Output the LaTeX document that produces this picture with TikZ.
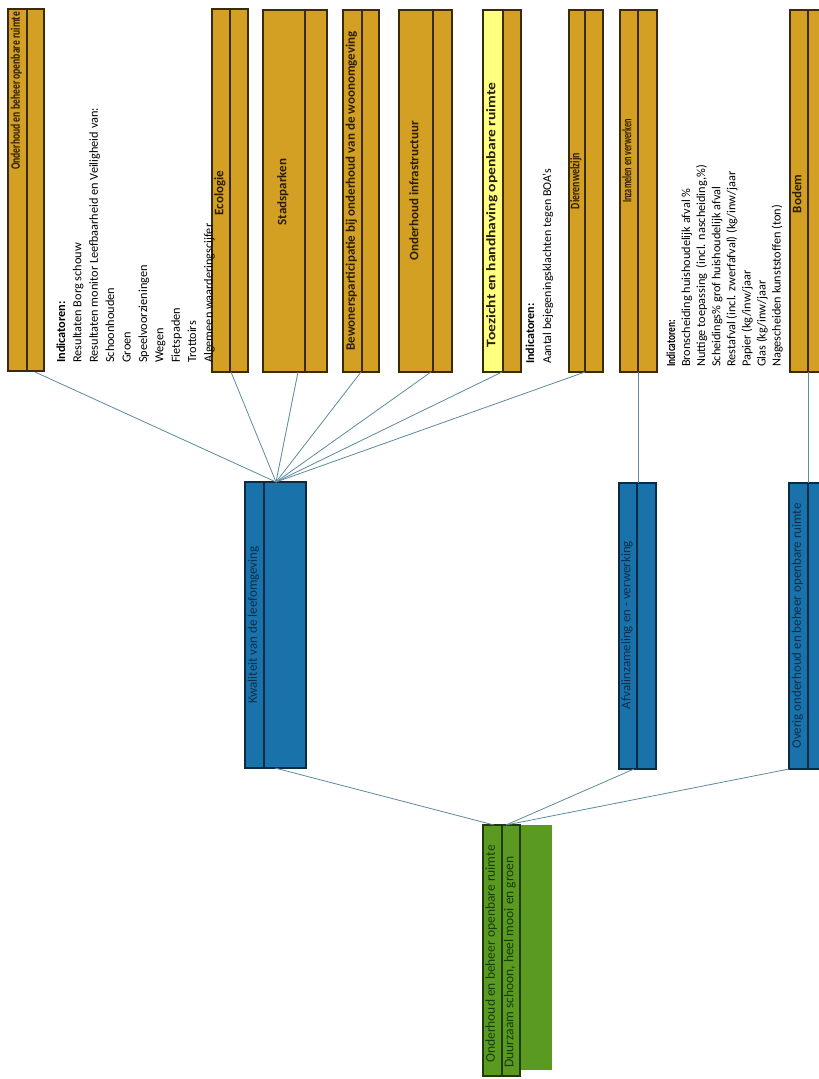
\documentclass[tikz,border=0pt]{standalone}
\usepackage{graphicx}
\usepackage{fontspec}
\setmainfont{Carlito}

\definecolor{goldfill}{HTML}{D4A023}
\definecolor{goldedge}{HTML}{3A2A08}
\definecolor{goldtext}{HTML}{2A1E05}
\definecolor{paleyellow}{HTML}{FFFF80}
\definecolor{bluefill}{HTML}{1A72AA}
\definecolor{blueedge}{HTML}{0B2B44}
\definecolor{bluetext}{HTML}{0A2E4E}
\definecolor{greenfill}{HTML}{5A9A20}
\definecolor{greenedge}{HTML}{1F3A0C}
\definecolor{greentext}{HTML}{1A3A0A}
\definecolor{wire}{HTML}{5C8A9E}

% a tall two-column box: name, colour family, left, right, divider, top, bottom
\newcommand\columnbox[7]{%
  \node[#2box, minimum width={(#4-#3)*1pt}, minimum height={(#7-#6)*1pt}]
    (#1) at ({(#3+#4)/2},{(#6+#7)/2}) {};
  \draw[#2line] (#5,#6) -- (#5,#7);
}
\newcommand\fsz[1]{\fontsize{#1}{#1}\selectfont}
% stretch or squeeze a label along its own direction
\newcommand\squeeze[2]{\scalebox{#1}[1]{#2}}

\begin{document}
\begin{tikzpicture}[x=1pt,y=-1pt,
  goldbox/.style={draw=goldedge, fill=goldfill, line width=1.3pt, inner sep=0pt},
  goldline/.style={draw=goldedge, line width=1.3pt},
  bluebox/.style={draw=blueedge, fill=bluefill, line width=1.3pt, inner sep=0pt},
  blueline/.style={draw=blueedge, line width=1.3pt},
  greenbox/.style={draw=greenedge, fill=greenfill, line width=1.3pt, inner sep=0pt},
  greenline/.style={draw=greenedge, line width=1.3pt},
  goldtitle/.style={rotate=90, anchor=mid, inner sep=0pt, text=goldtext,
    font=\fsz{13}\bfseries},
  bluetitle/.style={rotate=90, anchor=mid, inner sep=0pt, text=bluetext,
    font=\fsz{13}},
  greentitle/.style={rotate=90, anchor=mid, inner sep=0pt, text=greentext,
    font=\fsz{13.5}},
  indicator/.style={rotate=90, anchor=base west, inner sep=0pt,
    font=\fsz{12.3}},
  wire/.style={draw=wire, line width=0.8pt}
]
\useasboundingbox (0,0) rectangle (819,1079);
\clip (0,0) rectangle (819,1079);

% ---- top row: themes ----
\columnbox{b1}{gold}{8}{44}{27}{9}{371}
\columnbox{eco}{gold}{212}{248}{230}{9}{372}
\columnbox{stad}{gold}{263}{327}{305}{10}{372}
\columnbox{bew}{gold}{343}{379}{362}{10}{372}
\columnbox{infra}{gold}{399}{452}{433}{10}{372}
\columnbox{toez}{gold}{483}{521}{503}{10}{372}
\fill[paleyellow] (483.7,10.7) rectangle (502.3,371.3);
\columnbox{dier}{gold}{569}{603}{585}{10}{372}
\columnbox{inz}{gold}{620}{657}{638}{10}{372}
\columnbox{bodem}{gold}{790}{840}{808}{10}{372}

\node[goldtitle] (t-b1) at (17.5,91) {\squeeze{0.74}{Onderhoud en beheer openbare ruimte}};
\node[goldtitle] (t-eco) at (221,193) {Ecologie};
\node[goldtitle] (t-stad) at (284,192) {Stadsparken};
\node[goldtitle] (t-bew) at (352.5,191) {Bewonersparticipatie bij onderhoud van de woonomgeving};
\node[goldtitle] (t-infra) at (416,191) {Onderhoud infrastructuur};
\node[goldtitle] (t-toez) at (493,215) {\squeeze{1.2}{Toezicht en handhaving openbare ruimte}};
\node[goldtitle] (t-dier) at (577,181) {\squeeze{0.76}{Dierenwelzijn}};
\node[goldtitle] (t-inz) at (629,161) {\squeeze{0.63}{Inzamelen en verwerken}};
\node[goldtitle] (t-bodem) at (799,194) {Bodem};

% ---- indicator lists ----
\foreach \t [count=\i from 0] in {\textbf{Indicatoren:}, Resultaten Borg schouw,
    Resultaten monitor Leefbaarheid en Veiligheid van:, Schoonhouden, Groen,
    Speelvoorzieningen, Wegen, Fietspaden, Trottoirs, Algemeen waarderingscijfer}
  \node[indicator] (ind-b1-\i) at ({65+16.4*\i},363) {\t};

\foreach \t [count=\i from 0] in {\textbf{Indicatoren:}, Aantal bejegeningsklachten tegen BOA's}
  \node[indicator, font=\fsz{12}] (ind-toez-\i) at ({534+17*\i},364) {\t};

\node[indicator] (ind-inz-0) at (675,367) {\squeeze{0.76}{\bfseries Indicatoren:}};
\foreach \t [count=\i from 1] in {Bronscheiding huishoudelijk afval \%,
    {Nuttige toepassing\ \ (incl. nascheiding,\%)}, Scheidings\% grof huishoudelijk afval,
    Restafval (incl. zwerfafval) (kg/inw/jaar, Papier (kg/inw/jaar, Glas (kg/inw/jaar,
    Nagescheiden kunststoffen (ton)}
  \node[indicator] (ind-inz-\i) at ({675+15.1*\i},367) {\t};

% ---- middle row: policy fields ----
\columnbox{kwal}{blue}{245}{306}{264}{482}{768}
\columnbox{afval}{blue}{619}{656}{637}{483}{769}
\columnbox{overig}{blue}{789}{840}{808}{483}{769}

\node[bluetitle] (t-kwal) at (254.5,625) {Kwaliteit van de leefomgeving};
\node[bluetitle] (t-afval) at (628,625) {Afvalinzameling en - verwerking};
\node[bluetitle] (t-overig) at (798.5,626) {Overig onderhoud en beheer openbare ruimte};

% ---- bottom: programme ----
\fill[greenfill] (519,825) rectangle (552,1070);
\columnbox{prog}{green}{483}{520}{502}{825}{1076}
\node[greentitle] (t-prog1) at (492.5,954) {Onderhoud en beheer openbare ruimte};
\node[greentitle] (t-prog2) at (511,962) {Duurzaam schoon, heel mooi en groen};

% ---- connection points ----
\coordinate (b1-con) at (35,372);
\coordinate (eco-con) at (231,372);
\coordinate (stad-con) at (298,372);
\coordinate (bew-con) at (361,372);
\coordinate (infra-con) at (431,372);
\coordinate (toez-con) at (502,372);
\coordinate (dier-con) at (585,372);
\coordinate (inz-con) at (638,372);
\coordinate (bodem-con) at (808,372);
\coordinate (kwal-in) at (276,482);
\coordinate (afval-in) at (638,483);
\coordinate (overig-in) at (808,483);
\coordinate (kwal-out) at (275,768);
\coordinate (afval-out) at (634,769);
\coordinate (overig-out) at (789,769);
\coordinate (prog-in-a) at (494,825);
\coordinate (prog-in-b) at (506,825);

% ---- connectors ----
\foreach \n in {b1,eco,stad,bew,infra,toez,dier}
  \draw[wire] (\n-con) -- (kwal-in);
\draw[wire] (inz-con) -- (afval-in);
\draw[wire] (bodem-con) -- (overig-in);
\draw[wire] (kwal-out) -- (prog-in-a);
\draw[wire] (afval-out) -- (prog-in-b);
\draw[wire] (overig-out) -- (prog-in-b);
\end{tikzpicture}
\end{document}
